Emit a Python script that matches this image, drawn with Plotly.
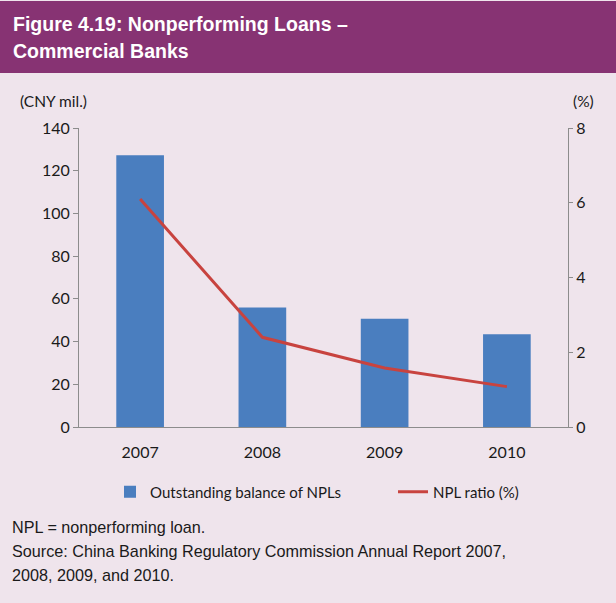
import plotly.graph_objects as go

years = ['2007', '2008', '2009', '2010']
npl_balance = [127.2, 56.0, 50.7, 43.4]   # CNY mil.
npl_ratio = [6.1, 2.4, 1.58, 1.08]        # %

bg = '#EFE4EC'
purple = '#873373'
axis_grey = '#8C8C8C'
lab_font = dict(family='Lato, Carlito, sans-serif', size=16, color='#1a1a1a')
leg_font = dict(family='Lato, sans-serif', size=15, color='#1a1a1a')

fig = go.Figure()
fig.add_trace(go.Bar(
    x=years, y=npl_balance, name='Outstanding balance of NPLs',
    marker=dict(color='#4A7EBF', line=dict(width=0)), width=0.39, legend='legend',
))
fig.add_trace(go.Scatter(
    x=years, y=npl_ratio, name='NPL ratio (%)', yaxis='y2', mode='lines',
    line=dict(color='#C8433F', width=3), legend='legend2',
))

# plot area: x 79..568 px, y 128..427 px
W, H = 489, 299
def px_(pixel):
    return (pixel - 79) / W
def py(pixel):
    return (427 - pixel) / H

fig.update_layout(
    width=616, height=603,
    margin=dict(l=79, r=48, t=128, b=176, autoexpand=False),
    paper_bgcolor=bg, plot_bgcolor=bg,
    showlegend=True,
    legend=dict(orientation='h', x=px_(110), xanchor='left', y=py(492), yanchor='middle',
                font=leg_font, bgcolor='rgba(0,0,0,0)'),
    legend2=dict(orientation='h', x=px_(393), xanchor='left', y=py(492), yanchor='middle',
                 font=leg_font, bgcolor='rgba(0,0,0,0)'),
    xaxis=dict(showline=True, linecolor=axis_grey, linewidth=1, ticks='',
               ticklabelstandoff=11, tickfont=lab_font, showgrid=False, zeroline=False,
               automargin=False),
    yaxis=dict(range=[0, 140], dtick=20, showline=True, linecolor=axis_grey, linewidth=1,
               ticks='outside', ticklen=5, tickcolor=axis_grey, tickfont=lab_font,
               showgrid=False, zeroline=False, automargin=False),
    yaxis2=dict(range=[0, 8], dtick=2, overlaying='y', side='right', showline=True,
                linecolor=axis_grey, linewidth=1, ticks='outside', ticklen=4,
                tickcolor=axis_grey, tickfont=lab_font, showgrid=False, zeroline=False,
                automargin=False),
)

# header band
fig.add_shape(type='rect', xref='paper', yref='paper', x0=-1, x1=2,
              y0=py(73), y1=py(1), fillcolor=purple, line=dict(width=0), layer='below')

title_font = dict(family='Liberation Sans, Arial, sans-serif', size=19.5, color='white')
fig.add_annotation(xref='paper', yref='paper', x=px_(11), y=py(24), xanchor='left',
                   yanchor='middle', showarrow=False, align='left',
                   text='<b>Figure 4.19: Nonperforming Loans –</b>', font=title_font)
fig.add_annotation(xref='paper', yref='paper', x=px_(11), y=py(51), xanchor='left',
                   yanchor='middle', showarrow=False, align='left',
                   text='<b>Commercial Banks</b>', font=title_font)

unit_font = dict(family='Lato, sans-serif', size=15.5, color='#1a1a1a')
fig.add_annotation(xref='paper', yref='paper', x=px_(18), y=py(101), xanchor='left',
                   yanchor='middle', showarrow=False, text='(CNY mil.)', font=unit_font)
fig.add_annotation(xref='paper', yref='paper', x=px_(571), y=py(101), xanchor='left',
                   yanchor='middle', showarrow=False, text='(%)', font=unit_font)

note_font = dict(family='Liberation Sans, Arial, sans-serif', size=16.2, color='#1a1a1a')
notes = ['NPL = nonperforming loan.',
         'Source: China Banking Regulatory Commission Annual Report 2007,',
         '2008, 2009, and 2010.']
for i, t in enumerate(notes):
    fig.add_annotation(xref='paper', yref='paper', x=px_(10), y=py(527 + 24 * i),
                       xanchor='left', yanchor='middle', showarrow=False, text=t,
                       font=note_font)

# remove the default page margin so the figure sits at the window's corner
fig.write_html('out.html', config={'displayModeBar': False},
               post_script="document.body.style.margin='0';")
